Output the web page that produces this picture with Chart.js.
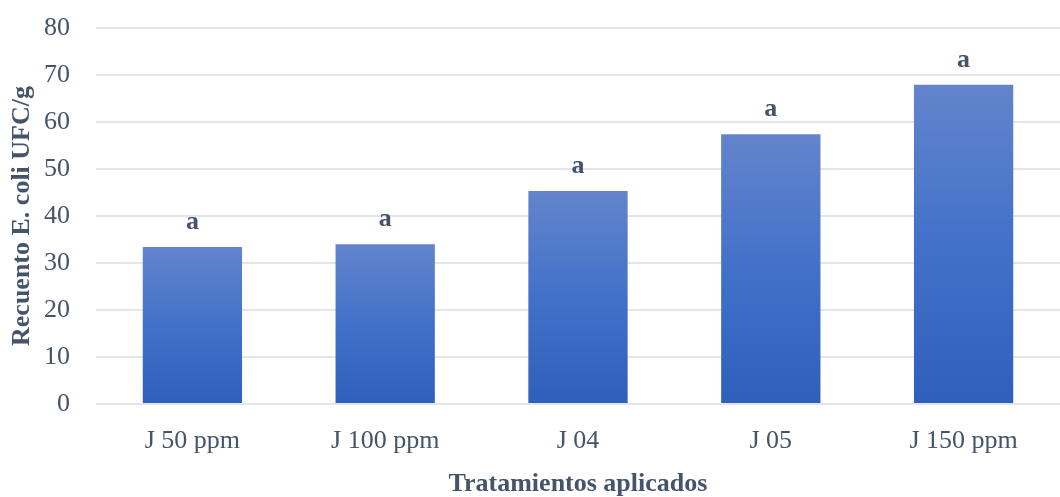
<!DOCTYPE html>
<html>
<head>
<meta charset="utf-8">
<script src="https://cdn.jsdelivr.net/npm/chart.js@4/dist/chart.umd.min.js"></script>
<style>
  html, body { margin: 0; padding: 0; background: #ffffff; }
  #wrap { width: 1060px; height: 497px; position: relative; }
</style>
</head>
<body>
<div id="wrap"><canvas id="chart"></canvas></div>
<script>
// Treatments and mean E. coli counts (UFC/g)
const categories = ['J 50 ppm', 'J 100 ppm', 'J 04', 'J 05', 'J 150 ppm'];
const counts = [33.4, 34.0, 45.3, 57.4, 67.9];
// Significance letters shown above each bar
const groupLetters = ['a', 'a', 'a', 'a', 'a'];
const yTicks = [0, 10, 20, 30, 40, 50, 60, 70, 80];

const textColor = '#44546a';
const serif = '"Liberation Serif", "Times New Roman", serif';

// Vertical gradient for each bar, lighter at its top
function barGradient(ctx) {
  const chart = ctx.chart;
  const y = chart.scales.y;
  if (!chart.chartArea || !y || ctx.type !== 'data') return '#4472c4';
  const top = y.getPixelForValue(ctx.raw);
  const base = y.getPixelForValue(0);
  const g = chart.ctx.createLinearGradient(0, top, 0, base);
  g.addColorStop(0, '#6384cc');
  g.addColorStop(0.5, '#4271c9');
  g.addColorStop(1, '#2e5fbb');
  return g;
}

// Draws the group letter above each bar
const letterPlugin = {
  id: 'groupLetters',
  afterDatasetsDraw(chart) {
    const ctx = chart.ctx;
    const meta = chart.getDatasetMeta(0);
    ctx.save();
    ctx.font = 'bold 26px ' + serif;
    ctx.fillStyle = textColor;
    ctx.textAlign = 'center';
    ctx.textBaseline = 'alphabetic';
    meta.data.forEach((bar, i) => {
      ctx.fillText(groupLetters[i], bar.x, bar.y - 18);
    });
    ctx.restore();
  }
};

new Chart(document.getElementById('chart'), {
  type: 'bar',
  data: {
    labels: categories,
    datasets: [{
      data: counts,
      backgroundColor: barGradient,
      borderWidth: 0,
      categoryPercentage: 1.0,
      barPercentage: 0.515
    }]
  },
  options: {
    responsive: true,
    maintainAspectRatio: false,
    animation: false,
    devicePixelRatio: 1,
    layout: { padding: { left: 6, right: 0, top: 0, bottom: 0 } },
    plugins: {
      legend: { display: false },
      tooltip: { enabled: false }
    },
    scales: {
      x: {
        afterFit(scale) { scale.height = 93; },
        grid: { display: false, drawTicks: false },
        border: { display: false },
        ticks: {
          color: textColor,
          font: { family: serif, size: 26 },
          padding: 22,
          maxRotation: 0
        },
        title: {
          display: true,
          text: 'Tratamientos aplicados',
          color: textColor,
          font: { family: serif, size: 26, weight: 'bold', lineHeight: 1.0 },
          padding: { top: 14, bottom: 0 }
        }
      },
      y: {
        min: 0,
        max: 80,
        afterFit(scale) {
          scale.width = 90;
          scale.paddingTop = 28;
          scale.paddingBottom = 0;
        },
        afterBuildTicks(scale) {
          scale.ticks = yTicks.map(v => ({ value: v }));
        },
        grid: { color: '#e2e5eb', lineWidth: 2, drawTicks: false },
        border: { display: false },
        ticks: {
          color: textColor,
          font: { family: serif, size: 26 },
          padding: 26
        },
        title: {
          display: true,
          text: 'Recuento E. coli UFC/g',
          color: textColor,
          font: { family: serif, size: 26, weight: 'bold', lineHeight: 1.0 },
          padding: { top: 3, bottom: 0 }
        }
      }
    }
  },
  plugins: [letterPlugin]
});
</script>
</body>
</html>
